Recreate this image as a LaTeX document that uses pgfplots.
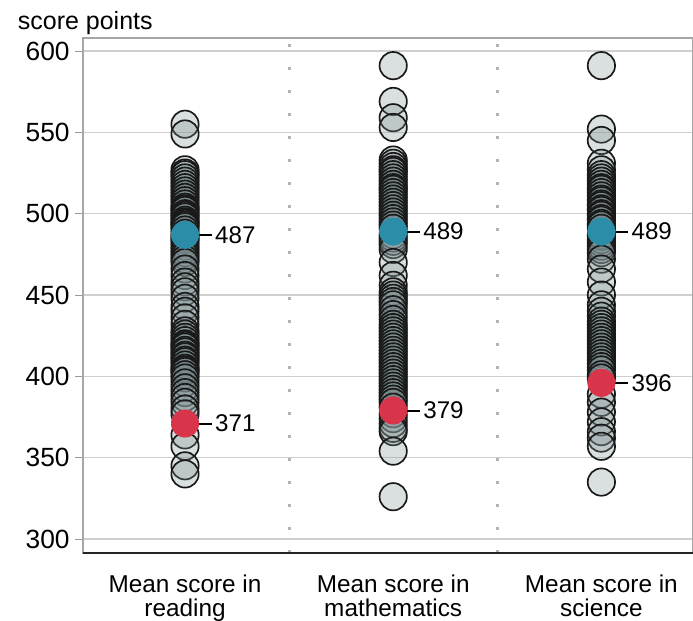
\documentclass[border=0pt]{standalone}
\usepackage{pgfplots}
\pgfplotsset{compat=1.18}
\usepackage{fontspec}
\setmainfont{Liberation Sans}
\definecolor{hiblue}{HTML}{2C8DA8}
\definecolor{hired}{HTML}{D8354B}
\definecolor{gridc}{HTML}{CFCFCF}
\definecolor{fillc}{HTML}{7A8C8F}
\tikzset{vlab/.style={anchor=west, inner sep=1.5pt, font=\fontsize{14.5}{16}\selectfont, black}}
\pgfplotsset{cstyle/.style={only marks, mark=*, mark size=8.2pt, mark options={draw=black!90, line width=1pt, fill=fillc, fill opacity=0.28}}}
\begin{document}
\begin{tikzpicture}
\begin{axis}[
  scale only axis, width=366pt, height=309pt,
  xmin=-0.49, xmax=2.44, ymin=291.4, ymax=608,
  ytick={300,350,...,600},
  xtick={0,1,2},
  xticklabels={{Mean score in\\reading},{Mean score in\\mathematics},{Mean score in\\science}},
  xticklabel style={align=center, font=\fontsize{14.6}{14.5}\selectfont, yshift=-5pt},
  yticklabel style={font=\fontsize{15.8}{17}\selectfont},
  /pgf/number format/assume math mode=true,
  ymajorgrids, grid style={gridc, line width=0.9pt},
  tick align=outside, ytick pos=left, major tick length=4.5pt,
  xtick style={draw=none},
  ytick style={gray!80, line width=0.6pt},
  axis line style={gray!70, line width=0.8pt},
  clip=false,
]
% separators
\draw[gray!60, line width=1.8pt, dash pattern=on 1.8pt off 12pt] (axis cs:0.5,291.4) -- (axis cs:0.5,608);
\draw[gray!60, line width=1.8pt, dash pattern=on 1.8pt off 12pt] (axis cs:1.5,291.4) -- (axis cs:1.5,608);
\draw[black!85, line width=1pt] (rel axis cs:0,0) -- (rel axis cs:1,0);
% reading
\addplot[cstyle] coordinates {
(0,555)(0,549)(0,527)(0,525)(0,524)(0,522)(0,520)(0,518)(0,516)(0,514)(0,512)(0,510)(0,508)(0,506)(0,504)(0,503)(0,502)(0,500)(0,499)(0,498)(0,496)(0,495)(0,494)(0,493)(0,492)(0,490)(0,488)(0,486)(0,485)(0,484)(0,482)(0,480)(0,478)(0,476)(0,474)(0,472)(0,470)(0,466)(0,462)(0,458)(0,455)(0,452)(0,448)(0,443)(0,440)(0,436)(0,432)(0,428)(0,426)(0,424)(0,422)(0,420)(0,419)(0,418)(0,416)(0,415)(0,413)(0,412)(0,410)(0,409)(0,407)(0,405)(0,404)(0,403)(0,401)(0,399)(0,396)(0,393)(0,390)(0,387)(0,384)(0,380)(0,377)(0,364)(0,357)(0,345)(0,340)
};
% mathematics
\addplot[cstyle] coordinates {
(1,591)(1,569)(1,559)(1,553)(1,533)(1,531)(1,529)(1,527)(1,526)(1,524)(1,522)(1,520)(1,518)(1,516)(1,515)(1,513)(1,511)(1,509)(1,507)(1,505)(1,503)(1,501)(1,499)(1,497)(1,495)(1,493)(1,491)(1,487)(1,485)(1,483)(1,481)(1,478)(1,470)(1,462)(1,456)(1,452)(1,450)(1,448)(1,446)(1,444)(1,441)(1,438)(1,435)(1,432)(1,430)(1,428)(1,426)(1,424)(1,422)(1,420)(1,418)(1,416)(1,414)(1,412)(1,410)(1,408)(1,406)(1,404)(1,402)(1,400)(1,398)(1,396)(1,394)(1,392)(1,390)(1,388)(1,386)(1,384)(1,381)(1,377)(1,374)(1,371)(1,368)(1,366)(1,354)(1,326)
};
% science
\addplot[cstyle] coordinates {
(2,591)(2,552)(2,545)(2,531)(2,527)(2,524)(2,522)(2,520)(2,518)(2,516)(2,515)(2,513)(2,511)(2,509)(2,508)(2,506)(2,505)(2,503)(2,502)(2,500)(2,499)(2,497)(2,496)(2,494)(2,493)(2,491)(2,487)(2,486)(2,484)(2,482)(2,480)(2,478)(2,476)(2,472)(2,466)(2,458)(2,450)(2,444)(2,440)(2,437)(2,434)(2,432)(2,430)(2,428)(2,426)(2,424)(2,422)(2,420)(2,418)(2,416)(2,414)(2,412)(2,410)(2,408)(2,406)(2,404)(2,401)(2,399)(2,389)(2,384)(2,378)(2,372)(2,366)(2,362)(2,357)(2,335)
};
% highlighted
\addplot[only marks, mark=*, mark size=8.2pt, mark options={draw=hiblue, fill=hiblue}] coordinates {(0,487)(1,489)(2,489)};
\addplot[only marks, mark=*, mark size=8.2pt, mark options={draw=hired, fill=hired}] coordinates {(0,371)(1,379)(2,396)};
\draw[black, line width=1.2pt] (axis cs:0,487) -- ++(16pt,0pt) node[vlab]{487};
\draw[black, line width=1.2pt] (axis cs:0,371) -- ++(16pt,0pt) node[vlab]{371};
\draw[black, line width=1.2pt] (axis cs:1,489) -- ++(16pt,0pt) node[vlab]{489};
\draw[black, line width=1.2pt] (axis cs:1,379) -- ++(16pt,0pt) node[vlab]{379};
\draw[black, line width=1.2pt] (axis cs:2,489) -- ++(16pt,0pt) node[vlab]{489};
\draw[black, line width=1.2pt] (axis cs:2,396) -- ++(16pt,0pt) node[vlab]{396};
\node[anchor=base west, font=\fontsize{15}{16}\selectfont] at ([xshift=-42.6pt, yshift=5pt]rel axis cs:0,1) {score points};
\end{axis}
\pgfresetboundingbox
\useasboundingbox ([xshift=-49.8pt, yshift=-40.8pt]current axis.south west) rectangle ([xshift=366pt, yshift=331.8pt]current axis.south west);
\end{tikzpicture}
\end{document}
